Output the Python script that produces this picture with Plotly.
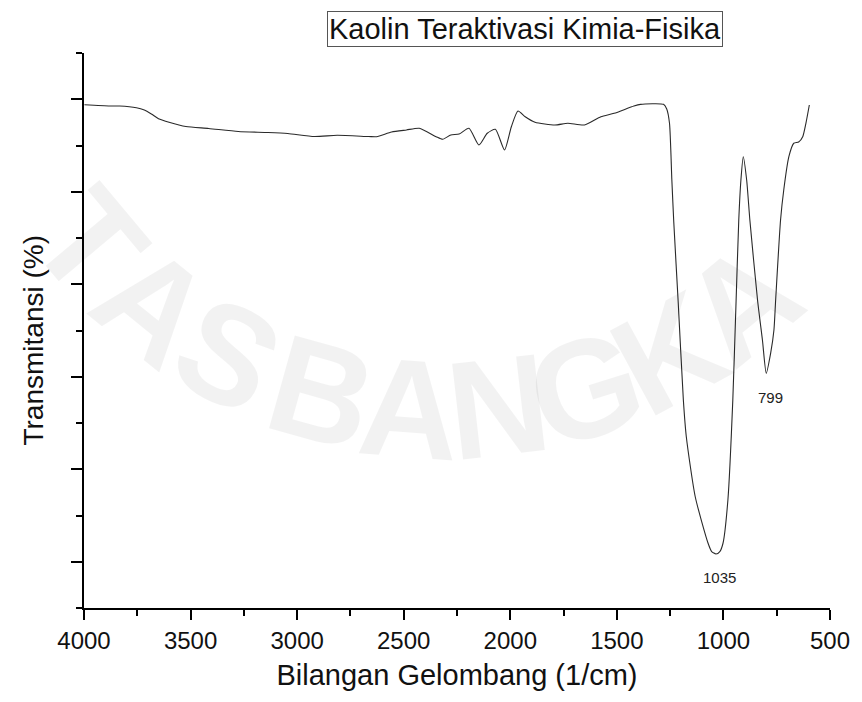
import math
import plotly.graph_objects as go

# FTIR spectrum: wavenumber (1/cm) and transmittance (arbitrary %)
wavenumber = [
    3998, 3879, 3833, 3754, 3717, 3684, 3647, 3601, 3522, 3415,
    3276, 3137, 3044, 2919, 2812, 2664, 2627, 2557, 2487, 2427,
    2348, 2317, 2279, 2240, 2194, 2147, 2108, 2070, 2027, 1995,
    1964, 1930, 1884, 1791, 1730, 1652, 1575, 1513, 1420, 1389,
    1281, 1266, 1253, 1242, 1233, 1212, 1188, 1174, 1132, 1072,
    1055, 1035, 1017, 1002, 979, 956, 942, 928, 918, 907,
    891, 876, 840, 817, 799, 778, 763, 755, 732, 717,
    693, 670, 647, 628, 613, 597,
]
transmittance = [
    59.4, 59.27, 59.27, 59.09, 58.84, 58.41, 57.86, 57.51, 57.05, 56.84,
    56.51, 56.41, 56.30, 55.97, 56.10, 55.97, 55.95, 56.46, 56.68, 56.86,
    55.95, 55.67, 56.14, 56.24, 56.86, 55.05, 56.32, 56.75, 54.51, 57.03,
    58.73, 58.11, 57.51, 57.22, 57.40, 57.22, 58.11, 58.48, 59.27, 59.45,
    59.45, 58.95, 57.40, 51.27, 46.73, 37.97, 27.49, 23.49, 17.0, 12.0,
    11.1, 10.84, 11.1, 12.0, 16.68, 27.49, 37.2, 46.95, 51.27, 53.79,
    51.27, 46.95, 38.30, 33.97, 30.37, 32.6, 35.05, 38.30, 46.95, 50.19,
    53.79, 55.24, 55.38, 55.95, 57.40, 59.38,
]

# labelled absorption bands
peak_positions = [1035, 799]
peak_labels = ["1035", "799"]

title_text = "Kaolin Teraktivasi Kimia-Fisika"
x_title = "Bilangan Gelombang (1/cm)"
y_title = "Transmitansi (%)"
x_ticks = [4000, 3500, 3000, 2500, 2000, 1500, 1000, 500]

# background watermark lettering on an arc (angle in degrees from straight down)
watermark_letters = list("TASBANGKA")
watermark_angles = [-50, -39, -28,
                    -15.5, -4.5, 6.5, 17.5, 28.5, 39.5]

FONT = "Liberation Sans, Arial, sans-serif"

# plot area in pixels (used to place paper-referenced text)
W, H = 862, 702
ML, MR, MT, MB = 84, 24, 53, 94
PW, PH = W - ML - MR, H - MT - MB


def paper_xy(px, py):
    return (px - ML) / PW, (H - MB - py) / PH


fig = go.Figure()
fig.add_trace(go.Scatter(
    x=wavenumber, y=transmittance, mode="lines",
    line=dict(color="#2a2a2a", width=1.1, shape="spline", smoothing=0.6),
    hoverinfo="x+y", showlegend=False,
))

# watermark: translucent so the spectrum stays fully visible through it
ARC_CX, ARC_CY, ARC_R = 450, -60, 470
for ch, ang in zip(watermark_letters, watermark_angles):
    t = math.radians(ang)
    px = ARC_CX + ARC_R * math.sin(t)
    py = ARC_CY + ARC_R * math.cos(t)
    ax_, ay_ = paper_xy(px, py)
    fig.add_annotation(
        x=ax_, y=ay_, xref="paper", yref="paper", text=f"<b>{ch}</b>",
        showarrow=False, textangle=-ang, xanchor="center", yanchor="middle",
        font=dict(family=FONT, size=140, color="rgba(0,0,0,0.05)"),
    )

for pos, lab in zip(peak_positions, peak_labels):
    yv = transmittance[wavenumber.index(pos)]
    fig.add_annotation(
        x=pos, y=yv, text=lab, showarrow=False, xshift=4, yshift=-24,
        font=dict(family=FONT, size=15, color="#222"),
    )

# boxed chart title
tx, ty = paper_xy(530, 29)
fig.add_annotation(
    x=tx, y=ty, xref="paper", yref="paper",
    text=title_text, showarrow=False, yanchor="middle", xanchor="center",
    font=dict(family=FONT, size=29, color="#111"),
    bordercolor="#555", borderwidth=1, borderpad=1, bgcolor="rgba(255,255,255,0)",
)

# vertical axis title
yx, yy = paper_xy(32, 340)
fig.add_annotation(
    x=yx, y=yy, xref="paper", yref="paper",
    text=y_title, showarrow=False, textangle=-90,
    xanchor="center", yanchor="middle",
    font=dict(family=FONT, size=28, color="#111"),
)

axis_common = dict(
    showgrid=False, zeroline=False, showline=True, linecolor="black", linewidth=2,
    ticks="outside", tickcolor="black", tickwidth=2, mirror=False,
)

fig.update_layout(
    width=W, height=H,
    margin=dict(l=ML, r=MR, t=MT, b=MB),
    paper_bgcolor="white", plot_bgcolor="white",
    font=dict(family=FONT, color="#111"),
    xaxis=dict(
        **axis_common, range=[4000, 500], tickvals=x_ticks, ticklen=10,
        tickfont=dict(size=24, family=FONT, color="#111"),
        minor=dict(dtick=250, tick0=0, ticklen=6, tickwidth=2, tickcolor="black", ticks="outside"),
        title=dict(text=x_title, font=dict(size=29, family=FONT, color="#111"), standoff=12),
    ),
    yaxis=dict(
        **axis_common, range=[5, 65], tick0=0, dtick=10, ticklen=11, showticklabels=False,
        minor=dict(dtick=5, tick0=0, ticklen=6, tickwidth=2, tickcolor="black", ticks="outside"),
    ),
)

fig.write_html("out.html")
